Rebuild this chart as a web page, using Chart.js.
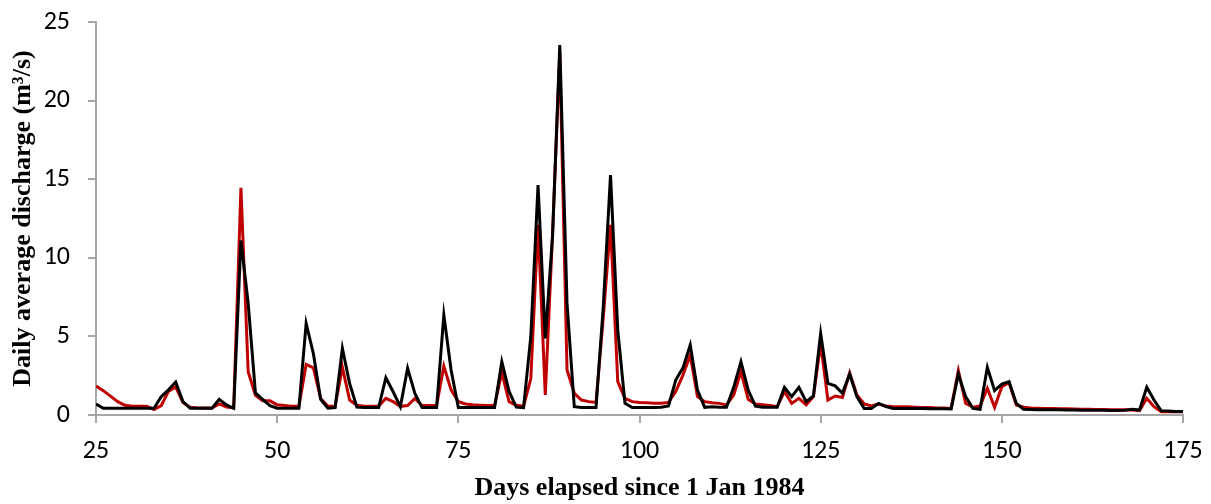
<!DOCTYPE html>
<html>
<head>
<meta charset="utf-8">
<script src="https://cdn.jsdelivr.net/npm/chart.js@4/dist/chart.umd.min.js"></script>
<style>
  html, body { margin: 0; padding: 0; background: #fff; }
  #wrap { width: 1211px; height: 504px; position: relative; }
</style>
</head>
<body>
<div id="wrap"><canvas id="dischargeChart"></canvas></div>
<script>
// one value per day, starting at day 25
const firstDay = 25;
const xTicks = [25, 50, 75, 100, 125, 150, 175];
const yTicks = [0, 5, 10, 15, 20, 25];

// red line
const observed = [
  1.84, 1.55, 1.2, 0.85, 0.62, 0.55, 0.55, 0.55, 0.35, 0.6,      // 25-34
  1.5, 1.78, 0.8, 0.5, 0.45, 0.45, 0.45, 0.7, 0.5, 0.45,         // 35-44
  14.45, 2.75, 1.25, 0.9, 0.9, 0.65, 0.6, 0.55, 0.55, 3.22,      // 45-54
  3.0, 1.05, 0.55, 0.55, 3.03, 0.95, 0.62, 0.55, 0.55, 0.55,     // 55-64
  1.06, 0.85, 0.55, 0.6, 1.05, 0.6, 0.6, 0.6, 3.11, 1.6,         // 65-74
  0.85, 0.7, 0.65, 0.62, 0.6, 0.6, 2.7, 0.85, 0.62, 0.55,        // 75-84
  2.3, 12.1, 1.27, 11.5, 23.0, 2.86, 1.38, 0.95, 0.85, 0.8,      // 85-94
  6.2, 12.1, 2.12, 1.05, 0.85, 0.8, 0.78, 0.75, 0.75, 0.8,       // 95-104
  1.5, 2.54, 3.81, 1.17, 0.85, 0.78, 0.74, 0.64, 1.27, 2.75,     // 105-114
  1.0, 0.7, 0.65, 0.6, 0.53, 1.49, 0.74, 1.06, 0.64, 1.17,       // 115-124
  4.55, 0.95, 1.21, 1.12, 2.69, 1.27, 0.7, 0.57, 0.7, 0.57,      // 125-134
  0.53, 0.53, 0.52, 0.5, 0.48, 0.47, 0.45, 0.44, 0.42, 2.82,     // 135-144
  0.74, 0.49, 0.57, 1.7, 0.49, 1.8, 2.05, 0.64, 0.49, 0.45,      // 145-154
  0.43, 0.42, 0.41, 0.4, 0.39, 0.38, 0.37, 0.36, 0.35, 0.35,     // 155-164
  0.34, 0.33, 0.33, 0.32, 0.27, 1.06, 0.53, 0.21, 0.2, 0.2,      // 165-174
  0.2                                                            // 175
];

// black line
const simulated = [
  0.7, 0.43, 0.43, 0.43, 0.43, 0.43, 0.43, 0.43, 0.43, 1.16,     // 25-34
  1.6, 2.1, 0.85, 0.43, 0.43, 0.43, 0.43, 1.0, 0.64, 0.43,       // 35-44
  11.1, 7.1, 1.4, 1.0, 0.6, 0.43, 0.43, 0.43, 0.43, 5.83,        // 45-54
  3.9, 1.0, 0.43, 0.47, 4.24, 2.0, 0.5, 0.47, 0.47, 0.47,        // 55-64
  2.37, 1.48, 0.53, 2.97, 1.38, 0.47, 0.47, 0.47, 6.36, 2.86,    // 65-74
  0.47, 0.47, 0.47, 0.47, 0.47, 0.47, 3.39, 1.5, 0.5, 0.47,      // 75-84
  4.98, 14.62, 4.87, 11.36, 23.54, 7.1, 0.53, 0.47, 0.47, 0.47,  // 85-94
  6.9, 15.26, 5.4, 0.74, 0.47, 0.47, 0.47, 0.47, 0.49, 0.57,     // 95-104
  2.22, 3.0, 4.45, 1.59, 0.49, 0.53, 0.5, 0.49, 1.76, 3.39,      // 105-114
  1.59, 0.57, 0.5, 0.49, 0.49, 1.76, 1.17, 1.76, 0.85, 1.21,     // 115-124
  5.19, 2.01, 1.85, 1.38, 2.6, 1.17, 0.42, 0.42, 0.74, 0.53,     // 125-134
  0.42, 0.42, 0.42, 0.41, 0.41, 0.4, 0.4, 0.39, 0.38, 2.6,       // 135-144
  1.17, 0.42, 0.36, 3.03, 1.55, 1.97, 2.12, 0.74, 0.36, 0.35,    // 145-154
  0.34, 0.34, 0.33, 0.33, 0.32, 0.32, 0.31, 0.31, 0.3, 0.3,      // 155-164
  0.29, 0.29, 0.3, 0.36, 0.32, 1.76, 0.95, 0.27, 0.25, 0.23,     // 165-174
  0.23                                                           // 175
];

const toPoints = arr => arr.map((v, i) => ({ x: firstDay + i, y: v }));

const tickFont = { family: 'Calibri, Carlito, "Open Sans", sans-serif', size: 26 };
const titleFont = { family: '"Liberation Serif", "Times New Roman", serif', size: 26, weight: 'bold' };
const axisGrey = '#a6a6a6';

// keep the plot area fixed: no extra room for overhanging tick labels
function noLabelPadding(axis) {
  axis.paddingTop = 0;
  axis.paddingBottom = 0;
  axis.paddingLeft = 0;
  axis.paddingRight = 0;
}

new Chart(document.getElementById('dischargeChart'), {
  type: 'line',
  data: {
    datasets: [
      {
        data: toPoints(simulated),
        borderColor: '#000000',
        borderWidth: 3,
        pointRadius: 0,
        tension: 0,
        order: 0
      },
      {
        data: toPoints(observed),
        borderColor: '#c00000',
        borderWidth: 3,
        pointRadius: 0,
        tension: 0,
        order: 1
      }
    ]
  },
  options: {
    responsive: true,
    maintainAspectRatio: false,
    animation: false,
    layout: { padding: { left: 0, right: 28, top: 22, bottom: 0 } },
    plugins: { legend: { display: false }, tooltip: { enabled: false } },
    scales: {
      x: {
        type: 'linear',
        min: xTicks[0],
        max: xTicks[xTicks.length - 1],
        afterBuildTicks: axis => { axis.ticks = xTicks.map(v => ({ value: v })); },
        afterFit: axis => { axis.height = 89; noLabelPadding(axis); },
        grid: { drawOnChartArea: false, drawTicks: true, tickLength: 8, color: axisGrey, lineWidth: 2 },
        border: { display: true, color: axisGrey, width: 2 },
        ticks: { color: '#000', font: tickFont, padding: 13, maxRotation: 0 },
        title: {
          display: true,
          text: 'Days elapsed since 1 Jan 1984',
          color: '#000',
          font: titleFont,
          padding: { top: 0, bottom: 0 }
        }
      },
      y: {
        min: yTicks[0],
        max: yTicks[yTicks.length - 1],
        afterBuildTicks: axis => { axis.ticks = yTicks.map(v => ({ value: v })); },
        afterFit: axis => { axis.width = 96; noLabelPadding(axis); },
        grid: { drawOnChartArea: false, drawTicks: true, tickLength: 8, color: axisGrey, lineWidth: 2 },
        border: { display: true, color: axisGrey, width: 2 },
        ticks: { color: '#000', font: tickFont, padding: 18 },
        title: {
          display: true,
          text: 'Daily average discharge (m³/s)',
          color: '#000',
          font: titleFont,
          padding: { top: 8, bottom: 0 }
        }
      }
    }
  }
});
</script>
</body>
</html>
